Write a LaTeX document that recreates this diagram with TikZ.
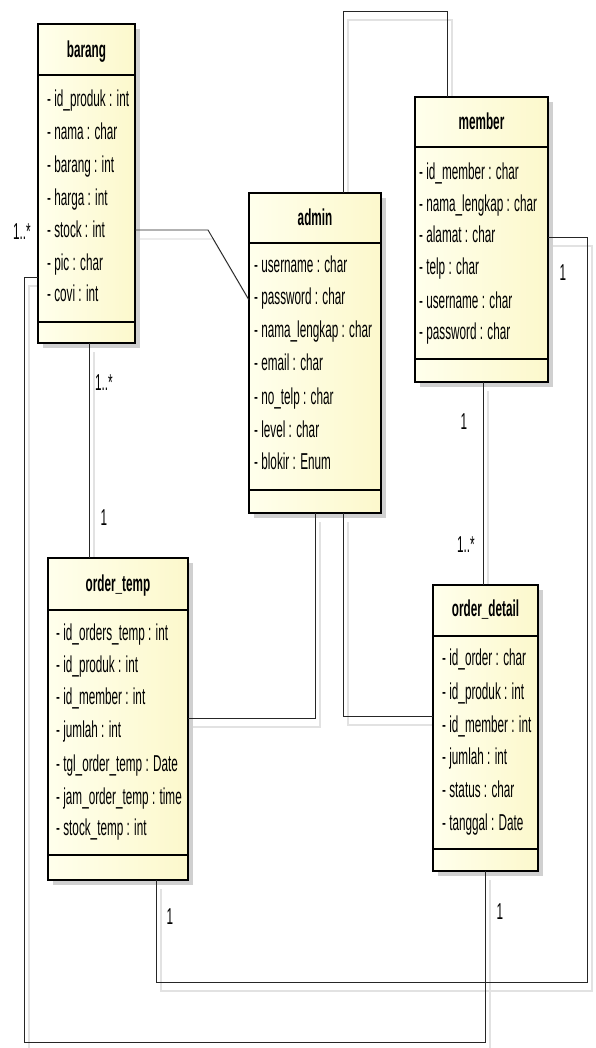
\documentclass[tikz,border=0pt]{standalone}
\usepackage{fontspec}
\setmainfont{Liberation Sans}[FakeStretch=0.51]
\usetikzlibrary{shadows,calc}
\pgfdeclarelayer{bg}
\pgfsetlayers{bg,main}
\definecolor{boxL}{RGB}{255,255,236}
\definecolor{boxR}{RGB}{252,248,204}
\definecolor{shade}{RGB}{208,208,208}
\definecolor{ghost}{RGB}{226,226,226}
\tikzset{
  classbox/.style={draw=black, line width=1.6pt, left color=boxL, right color=boxR,
    inner sep=0pt, outer sep=0pt, anchor=north west,
    drop shadow={shadow xshift=5pt, shadow yshift=-5pt, fill=shade, opacity=1}},
  divline/.style={line width=1.1pt, black},
  attr/.style={anchor=mid west, inner sep=0pt, font=\fontsize{23}{25}\selectfont},
  ttl/.style={anchor=mid, inner sep=0pt, font=\fontsize{23}{25}\selectfont\bfseries},
  mult/.style={anchor=mid, inner sep=0pt, font=\fontsize{23}{25}\selectfont},
  conn/.style={line width=0.9pt, black!85},
  ghostline/.style={draw=ghost, line width=1.4pt, transform canvas={shift={(5pt,-9pt)}}}
}
\newcommand{\umlbox}[7]{%
  \node[classbox, minimum width={(#4)-(#2)}, minimum height={(#5)-(#3)}] (#1) at (#2,#3) {};
  \draw[divline] (#2,#6) -- (#4,#6);
  \draw[divline] (#2,#7) -- (#4,#7);
}
\newcommand{\allconns}[1]{%
  \draw[#1] (barang.east |- k1) -- (k1) -- (admin.west |- k1b);
  \draw[#1] (admin.north -| k2a) -- (k2a) -- (k2b) -- (member.north -| k2b);
  \draw[#1] (member.east |- k3a) -- (k3a) -- (k3b) -- (k3c) -- (otemp.south -| k3c);
  \draw[#1] (barang.west |- k4a) -- (k4a) -- (k4b) -- (k4c) -- (odetail.south -| k4c);
  \draw[#1] (barang.south -| k5) -- (otemp.north -| k5);
  \draw[#1] (member.south -| k6) -- (odetail.north -| k6);
  \draw[#1] (admin.south -| k7) -- (k7) -- (otemp.east |- k7);
  \draw[#1] (admin.south -| k8) -- (k8) -- (odetail.west |- k8);
}
\begin{document}
\begin{tikzpicture}[x=1pt,y=-1pt]
\useasboundingbox (0,0) rectangle (595,1048);

% ---------- bend points ----------
\coordinate (k1) at (208,230);
\coordinate (k1b) at (249,300);
\coordinate (k2a) at (343,11);
\coordinate (k2b) at (447,11);
\coordinate (k3a) at (587,237);
\coordinate (k3b) at (587,982);
\coordinate (k3c) at (156,982);
\coordinate (k4a) at (24,277);
\coordinate (k4b) at (24,1042);
\coordinate (k4c) at (485,1042);
\coordinate (k5) at (89,450);
\coordinate (k6) at (483,480);
\coordinate (k7) at (315,718);
\coordinate (k8) at (343,716);

% ---------- classes ----------
\umlbox{barang}{38}{24}{135}{343}{75}{322}
\node[ttl] (tbarang) at (86.5,55) {barang};
\node[attr] (b1) at (47,104) {- id\_produk : int};
\node[attr] (b2) at (47,137) {- nama : char};
\node[attr] (b3) at (47,170) {- barang : int};
\node[attr] (b4) at (47,203) {- harga : int};
\node[attr] (b5) at (47,235) {- stock : int};
\node[attr] (b6) at (47,268) {- pic : char};
\node[attr] (b7) at (47,299) {- covi : int};

\umlbox{admin}{249}{193}{381}{513}{243}{490}
\node[ttl] (tadmin) at (315,223) {admin};
\node[attr] (a1) at (254,270) {- username : char};
\node[attr] (a2) at (254,302) {- password : char};
\node[attr] (a3) at (254,335) {- nama\_lengkap : char};
\node[attr] (a4) at (254,368) {- email : char};
\node[attr] (a5) at (254,402) {- no\_telp : char};
\node[attr] (a6) at (254,435) {- level : char};
\node[attr] (a7) at (254,467) {- blokir : Enum};

\umlbox{member}{415}{97}{548}{382}{147}{359}
\node[ttl] (tmember) at (481.5,127) {member};
\node[attr] (m1) at (419,177) {- id\_member : char};
\node[attr] (m2) at (419,209) {- nama\_lengkap : char};
\node[attr] (m3) at (419,240) {- alamat : char};
\node[attr] (m4) at (419,272) {- telp : char};
\node[attr] (m5) at (419,306) {- username : char};
\node[attr] (m6) at (419,337) {- password : char};

\umlbox{otemp}{48}{558}{188}{880}{610}{855}
\node[ttl] (totemp) at (118,589) {order\_temp};
\node[attr] (o1) at (56,638) {- id\_orders\_temp : int};
\node[attr] (o2) at (56,670) {- id\_produk : int};
\node[attr] (o3) at (56,702) {- id\_member : int};
\node[attr] (o4) at (56,735) {- jumlah : int};
\node[attr] (o5) at (56,769) {- tgl\_order\_temp : Date};
\node[attr] (o6) at (56,802) {- jam\_order\_temp : time};
\node[attr] (o7) at (56,833) {- stock\_temp : int};

\umlbox{odetail}{433}{585}{538}{871}{636}{849}
\node[ttl] (todetail) at (485.5,614) {order\_detail};
\node[attr] (d1) at (442,663) {- id\_order : char};
\node[attr] (d2) at (442,697) {- id\_produk : int};
\node[attr] (d3) at (442,730) {- id\_member : int};
\node[attr] (d4) at (442,762) {- jumlah : int};
\node[attr] (d5) at (442,795) {- status : char};
\node[attr] (d6) at (442,828) {- tanggal : Date};

% ---------- connectors ----------
\begin{pgfonlayer}{bg}
  \allconns{ghostline}
\end{pgfonlayer}
\allconns{conn}

% ---------- multiplicities ----------
\node[mult] (l1) at (22,237) {1..*};
\node[mult] (l2) at (563,278) {1};
\node[mult] (l3) at (170,922) {1};
\node[mult] (l4) at (500,917) {1};
\node[mult] (l5) at (104,388) {1..*};
\node[mult] (l6) at (104,523) {1};
\node[mult] (l7) at (464,427) {1};
\node[mult] (l8) at (466,550) {1..*};
\end{tikzpicture}
\end{document}
